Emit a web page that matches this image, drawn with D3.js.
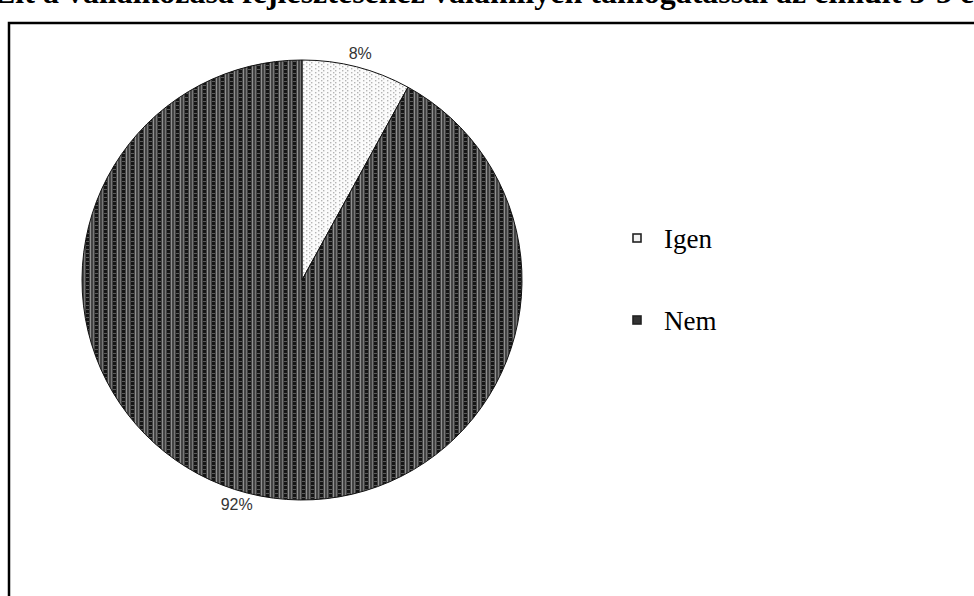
<!DOCTYPE html>
<head>
  <meta charset="utf-8">
  <title>Támogatás</title>
  <style>
    body { margin: 0; background: #fff; }
    svg { display: block; }
  </style>
</head>
<body>

<svg width="974" height="596"></svg>

<script src="https://d3js.org/d3.v7.min.js"></script>
<script>

  // adatok
  const categories = ["Igen", "Nem"];
  const values = [8, 92];
  const labels = ["8%", "92%"];
  const titleText = "6. Élt a vállalkozása fejlesztéséhez valamilyen támogatással az elmúlt 3-5 évben?";

  let svg = d3.select("svg");
  const width = +svg.attr("width"),
        height = +svg.attr("height");

  const defs = svg.append("defs");

  // Igen: világos, pöttyös minta
  const pIgen = defs.append("pattern")
    .attr("id", "pat-igen")
    .attr("patternUnits", "userSpaceOnUse")
    .attr("width", 12).attr("height", 4);
  pIgen.append("rect").attr("width", 12).attr("height", 4).attr("fill", "#fbfbfb");
  [[1, 0], [4, 2], [7, 0], [9, 2]].forEach(p => {
    pIgen.append("rect").attr("x", p[0]).attr("y", p[1])
      .attr("width", 1.4).attr("height", 1.4).attr("fill", "#b5b5b5");
  });

  // Nem: sötét, függőlegesen csíkos minta
  const pNem = defs.append("pattern")
    .attr("id", "pat-nem")
    .attr("patternUnits", "userSpaceOnUse")
    .attr("width", 9).attr("height", 4);
  pNem.append("rect").attr("width", 9).attr("height", 4).attr("fill", "#444");
  pNem.append("rect").attr("x", 0).attr("width", 3).attr("height", 4).attr("fill", "#151515");
  pNem.append("rect").attr("x", 4).attr("width", 1).attr("height", 4).attr("fill", "#909090");
  pNem.append("rect").attr("x", 7).attr("width", 1).attr("height", 4).attr("fill", "#777");
  pNem.append("rect").attr("x", 0).attr("y", 1).attr("width", 3).attr("height", 1).attr("fill", "#5a5a5a");

  const fills = d3.scaleOrdinal()
    .domain(categories)
    .range(["url(#pat-igen)", "url(#pat-nem)"]);

  // levágott cím a tetején (az eredetin is csak az alja látszik)
  svg.append("text")
    .attr("x", -38)
    .attr("y", 3)
    .attr("font-family", "Liberation Serif, Times New Roman, serif")
    .attr("font-weight", "bold")
    .attr("font-size", 32)
    .attr("fill", "#000")
    .text(titleText);

  // keret
  svg.append("rect")
    .attr("x", 9)
    .attr("y", 23)
    .attr("width", 1000)
    .attr("height", 640)
    .attr("fill", "none")
    .attr("stroke", "#000")
    .attr("stroke-width", 2.5);

  const cx = 302, cy = 280, r = 220;

  const pie = d3.pie().sort(null).value(d => d.value);
  const arcs = pie(categories.map((c, i) => ({ name: c, value: values[i], label: labels[i] })));

  const arc = d3.arc().innerRadius(0).outerRadius(r);

  const g = svg.append("g").attr("transform", `translate(${cx},${cy})`);

  g.selectAll("path")
    .data(arcs)
    .enter().append("path")
    .attr("d", arc)
    .attr("fill", d => fills(d.data.name))
    .attr("stroke", "#111")
    .attr("stroke-width", 1);

  // címkék: a szelet szélén kívül
  const labelPos = d => {
    const a = d.data.name === "Igen" ? (d.startAngle + d.endAngle) / 2 : Math.PI * 1.09;
    const rr = r + 14;
    return [Math.sin(a) * rr, -Math.cos(a) * rr];
  };

  g.selectAll("text.lbl")
    .data(arcs)
    .enter().append("text")
    .attr("class", "lbl")
    .attr("x", d => labelPos(d)[0])
    .attr("y", d => labelPos(d)[1])
    .attr("text-anchor", "middle")
    .attr("dy", "0.35em")
    .attr("font-family", "Liberation Sans, Arial, sans-serif")
    .attr("font-size", 16)
    .attr("fill", "#333")
    .text(d => d.data.label);

  // jelmagyarázat
  const legend = svg.append("g").attr("transform", "translate(633,238)");
  const item = legend.selectAll("g")
    .data(categories)
    .enter().append("g")
    .attr("transform", (d, i) => `translate(0,${i * 82})`);

  item.append("rect")
    .attr("x", 0).attr("y", -4)
    .attr("width", 8).attr("height", 8)
    .attr("fill", d => d === "Igen" ? "#f2f2f2" : "#333")
    .attr("stroke", "#222")
    .attr("stroke-width", 1.6);

  item.append("text")
    .attr("x", 31)
    .attr("y", 10)
    .attr("font-family", "Liberation Serif, Times New Roman, serif")
    .attr("font-size", 27)
    .attr("fill", "#000")
    .text(d => d);

</script>
</body>
